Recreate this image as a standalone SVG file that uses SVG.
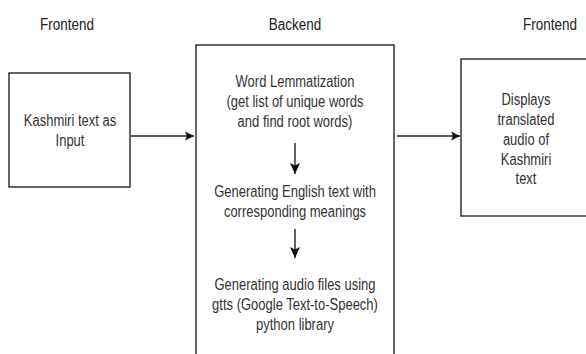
<svg xmlns="http://www.w3.org/2000/svg" width="586" height="354" viewBox="0 0 586 354">
  <style>
    .box { fill: #ffffff; stroke: #262626; stroke-width: 1.4; }
    .lbl { font-family: "Liberation Sans", Arial, sans-serif; font-size: 13px; fill: #333333; text-anchor: middle; }
    .hdr { font-family: "Liberation Sans", Arial, sans-serif; font-size: 13.5px; fill: #222222; text-anchor: middle; }
    .edge { stroke: #222222; stroke-width: 1.4; fill: none; }
  </style>
  <defs>
    <marker id="arrowH" markerWidth="10" markerHeight="10" refX="9" refY="5" orient="auto" markerUnits="userSpaceOnUse">
      <path d="M0,0.5 L9,5 L0,9.5 L2,5 Z" fill="#111111"/>
    </marker>
    <marker id="arrowV" markerWidth="12" markerHeight="12" refX="11" refY="5.5" orient="auto" markerUnits="userSpaceOnUse">
      <path d="M0,0.5 L11,5.5 L0,10.5 L2.5,5.5 Z" fill="#111111"/>
    </marker>
  </defs>
  <rect width="586" height="354" fill="#ffffff"/>

  <!-- column headings -->
  <g id="headings">
    <text class="hdr" transform="matrix(1 0 0 1.2 67 30)">Frontend</text>
    <text class="hdr" transform="matrix(1 0 0 1.2 295 30)">Backend</text>
    <text class="hdr" transform="matrix(1 0 0 1.2 550 30)">Frontend</text>
  </g>

  <!-- input node -->
  <g id="input">
    <rect class="box" x="9" y="73" width="121" height="114"/>
    <text class="lbl" transform="matrix(1 0 0 1.2 70 126)">Kashmiri text as</text>
    <text class="lbl" transform="matrix(1 0 0 1.2 70 146)">Input</text>
  </g>

  <!-- backend processing node -->
  <g id="backend">
    <rect class="box" x="196" y="45" width="198" height="320"/>
    <text class="lbl" transform="matrix(1 0 0 1.2 295 87)">Word Lemmatization</text>
    <text class="lbl" transform="matrix(1 0 0 1.2 295 107)">(get list of unique words</text>
    <text class="lbl" transform="matrix(1 0 0 1.2 295 127)">and find root words)</text>
    <text class="lbl" transform="matrix(1 0 0 1.2 295 197)">Generating English text with</text>
    <text class="lbl" transform="matrix(1 0 0 1.2 295 217)">corresponding meanings</text>
    <text class="lbl" transform="matrix(1 0 0 1.2 295 290)">Generating audio files using</text>
    <text class="lbl" transform="matrix(1 0 0 1.2 295 310)">gtts (Google Text-to-Speech)</text>
    <text class="lbl" transform="matrix(1 0 0 1.2 295 330)">python library</text>
  </g>

  <!-- output node -->
  <g id="output">
    <rect class="box" x="461" y="59" width="140" height="157"/>
    <text class="lbl" transform="matrix(1 0 0 1.2 526 105)">Displays</text>
    <text class="lbl" transform="matrix(1 0 0 1.2 526 125)">translated</text>
    <text class="lbl" transform="matrix(1 0 0 1.2 526 145)">audio of</text>
    <text class="lbl" transform="matrix(1 0 0 1.2 526 165)">Kashmiri</text>
    <text class="lbl" transform="matrix(1 0 0 1.2 526 184)">text</text>
  </g>

  <!-- connectors -->
  <g id="connectors">
    <line class="edge" x1="131" y1="136" x2="194" y2="136" marker-end="url(#arrowH)"/>
    <line class="edge" x1="397" y1="136" x2="460" y2="136" marker-end="url(#arrowH)"/>
    <line class="edge" x1="295" y1="143" x2="295" y2="174" marker-end="url(#arrowV)"/>
    <line class="edge" x1="295" y1="229" x2="295" y2="258" marker-end="url(#arrowV)"/>
  </g>
</svg>
